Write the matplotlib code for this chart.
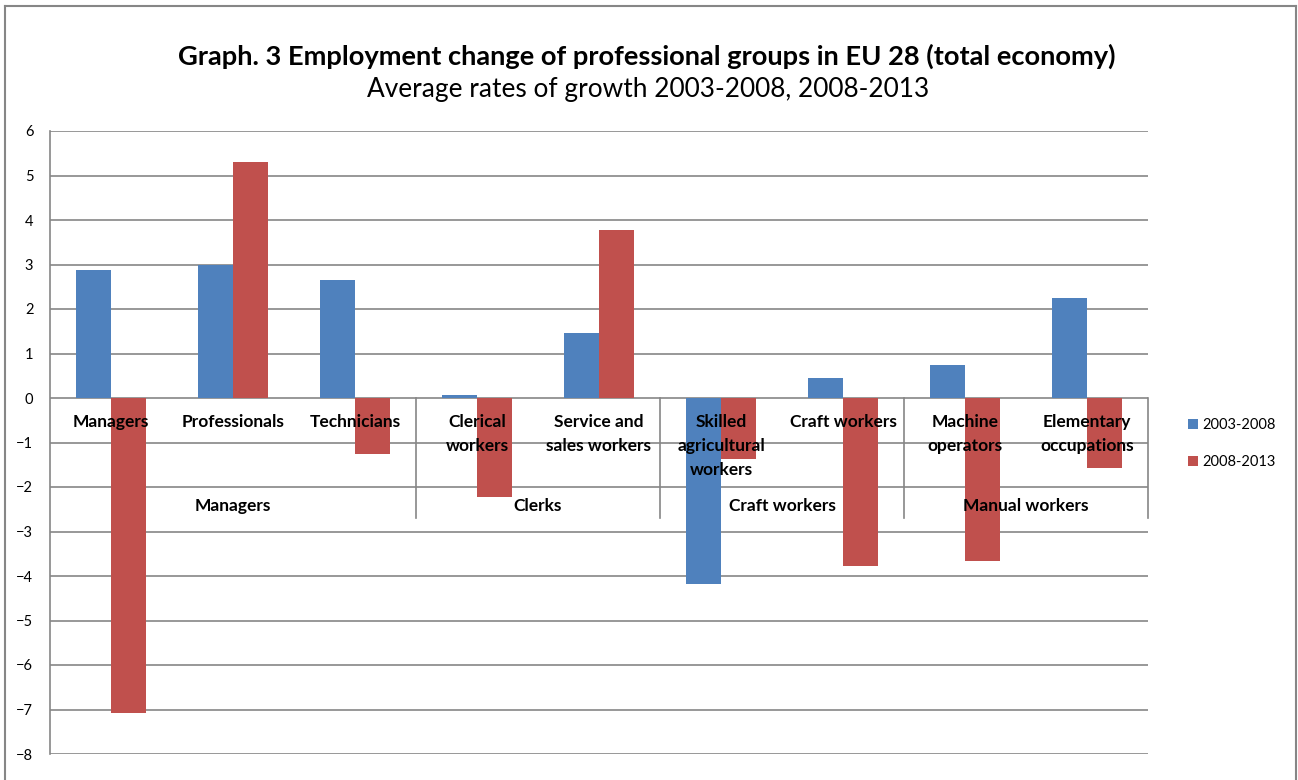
import matplotlib.pyplot as plt
from matplotlib.lines import Line2D
import numpy as np

plt.rcParams['font.family'] = ['Lato', 'DejaVu Sans']

# data
categories = ['Managers', 'Professionals', 'Technicians', 'Clerical\nworkers',
              'Service and\nsales workers', 'Skilled\nagricultural\nworkers',
              'Craft workers', 'Machine\noperators', 'Elementary\noccupations']
groups = ['Managers', 'Clerks', 'Craft workers', 'Manual workers']
group_sizes = [3, 2, 2, 2]
growth_2003_2008 = [2.88, 3.0, 2.66, 0.07, 1.47, -4.17, 0.46, 0.74, 2.24]
growth_2008_2013 = [-7.07, 5.3, -1.26, -2.22, 3.77, -1.37, -3.77, -3.67, -1.58]
series_labels = ['2003-2008', '2008-2013']

BLUE = '#4F81BD'
RED = '#C0504D'
GRID = '#868686'

W, H = 1298, 780
fig = plt.figure(figsize=(W / 100, H / 100), dpi=100)
ax = fig.add_axes([50 / W, 1 - 754 / H, (1148 - 50) / W, (754 - 131) / H])

x = np.arange(len(categories))
bw = 0.287
b1 = ax.bar(x - bw / 2, growth_2003_2008, bw, color=BLUE, zorder=3)
b2 = ax.bar(x + bw / 2, growth_2008_2013, bw, color=RED, zorder=3)

ax.set_xlim(-0.5, len(categories) - 0.5)
ax.set_ylim(-8, 6)
ax.set_yticks(range(-8, 7))
ax.set_xticks([])
for v in range(-8, 7):
    ax.axhline(v, color=GRID, lw=1.2, zorder=1)
for s in ['top', 'right', 'bottom']:
    ax.spines[s].set_visible(False)
ax.spines['left'].set_color(GRID)
ax.spines['left'].set_linewidth(1.2)
ax.tick_params(axis='y', length=0, pad=12, labelsize=10.5)

# category labels under the zero line
for xi, lab in zip(x, categories):
    ax.text(xi, -0.37, lab, ha='center', va='top', fontsize=12.5, fontweight='bold',
            linespacing=1.58, zorder=5)

# group labels and separators
start = -0.5
for g, n in zip(groups, group_sizes):
    end = start + n
    ax.text((start + end) / 2, -2.42, g, ha='center', va='center', fontsize=12.5,
            fontweight='bold', zorder=5)
    ax.plot([end, end], [0, -2.7], color=GRID, lw=1.2, zorder=2, clip_on=False)
    start = end

# titles
fig.text(647 / W, 1 - 56 / H, 'Graph. 3 Employment change of professional groups in EU 28 (total economy)',
         ha='center', va='center', fontsize=19.6, fontweight='bold')
fig.text(648 / W, 1 - 90 / H, 'Average rates of growth 2003-2008, 2008-2013',
         ha='center', va='center', fontsize=18.9)

# legend
ax.legend([b1, b2], series_labels, loc='upper left', bbox_to_anchor=(1175 / W, 1 - 405 / H),
          bbox_transform=fig.transFigure, frameon=False, fontsize=10.5,
          handlelength=0.65, handleheight=0.65, handletextpad=0.35, labelspacing=1.6)

# outer chart frame
fig.add_artist(Line2D([5 / W, 5 / W], [0, 1 - 6 / H], color=GRID, lw=1.5))
fig.add_artist(Line2D([5 / W, 1296 / W], [1 - 6 / H, 1 - 6 / H], color=GRID, lw=1.5))
fig.add_artist(Line2D([1296 / W, 1296 / W], [0, 1 - 6 / H], color=GRID, lw=1.5))

fig.savefig('out.png', dpi=100)
